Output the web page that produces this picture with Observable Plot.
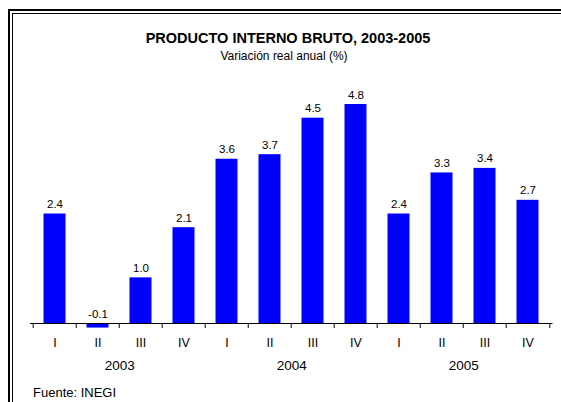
<!DOCTYPE html>
<html>
<head>
<meta charset="utf-8">
<script src="https://cdn.jsdelivr.net/npm/d3@7"></script>
<script src="https://cdn.jsdelivr.net/npm/@observablehq/plot@0.6"></script>
<style>
  html, body { margin: 0; padding: 0; background: #fff; }
  #wrap { position: relative; width: 561px; height: 402px; overflow: hidden; background: #fff;
          font-family: Arial, "Liberation Sans", sans-serif; color: #000; }
  .frame1 { position: absolute; left: 8px; top: 9px; width: 700px; height: 600px;
            border-left: 2px solid #000; border-top: 2px solid #000; }
  .frame2 { position: absolute; left: 12px; top: 13px; width: 700px; height: 600px;
            border-left: 1px solid #000; border-top: 1px solid #000; }
  .title { position: absolute; left: 0; width: 576px; text-align: center; top: 31px;
           font-size: 14.5px; font-weight: bold; line-height: 15px; }
  .subtitle { position: absolute; left: 0; width: 568px; text-align: center; top: 50px;
              font-size: 12px; line-height: 13px; }
  .source { position: absolute; left: 33px; top: 386px; font-size: 13px; line-height: 14px; }
  #chart { position: absolute; left: 0; top: 0; }
</style>
</head>
<body>
<div id="wrap">
  <div class="frame1"></div>
  <div class="frame2"></div>
  <div id="chart"></div>
  <div class="title">PRODUCTO INTERNO BRUTO, 2003-2005</div>
  <div class="subtitle">Variación real anual (%)</div>
  <div class="source">Fuente: INEGI</div>
</div>
<script>
// Data
const years = ["2003", "2004", "2005"];
const quarters = ["I", "II", "III", "IV"];
const values = [2.4, -0.1, 1.0, 2.1, 3.6, 3.7, 4.5, 4.8, 2.4, 3.3, 3.4, 2.7];

const data = [];
years.forEach((y, yi) => quarters.forEach((q, qi) => {
  data.push({key: y + "-" + q, year: y, quarter: q, value: values[yi * 4 + qi]});
}));
const keys = data.map(d => d.key);

const W = 561, H = 402;
const mL = 30, mR = 8.5, mB = 79;
const bw = (W - mL - mR) / keys.length;
const fmt = v => v.toFixed(1);

const chart = Plot.plot({
  width: W,
  height: H,
  marginLeft: mL,
  marginRight: mR,
  marginTop: 0,
  marginBottom: mB,
  style: {fontFamily: "Arial, 'Liberation Sans', sans-serif", color: "#000", background: "transparent", overflow: "visible"},
  x: {type: "band", domain: keys, padding: 0, axis: null},
  y: {domain: [0, 4.8], range: [H - mB, 104], axis: null},
  marks: [
    Plot.barY(data, {x: "key", y: "value", fill: "#0000ff", insetLeft: 10.5, insetRight: 10.5}),
    Plot.ruleY([0], {stroke: "#000", strokeWidth: 1}),
    Plot.ruleX(keys, {x: d => d, y1: 0, y2: 0, dx: -bw / 2, insetBottom: -5, stroke: "#000"}),
    Plot.ruleX([keys[keys.length - 1]], {x: d => d, y1: 0, y2: 0, dx: bw / 2, insetBottom: -5, stroke: "#000"}),
    Plot.text(data, {x: "key", y: d => Math.max(d.value, 0), text: d => fmt(d.value),
      lineAnchor: "bottom", dy: -6, fontSize: 11.5, fill: "#000"}),
    Plot.axisX({anchor: "bottom", tickSize: 0, tickPadding: 15, fontSize: 12.5, label: null,
      tickFormat: d => d.split("-")[1]}),
    Plot.text(years, {x: d => d + "-II", dx: bw / 2, frameAnchor: "bottom", dy: 46,
      lineAnchor: "bottom", text: d => d, fontSize: 13.5, fill: "#000"})
  ]
});
document.getElementById("chart").appendChild(chart);
</script>
</body>
</html>
